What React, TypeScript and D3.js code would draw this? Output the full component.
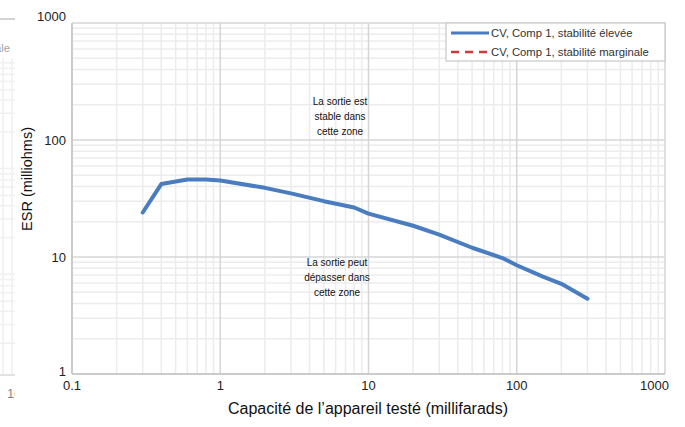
import React from "react";
import * as d3 from "d3";

const capacitance = [0.3, 0.4, 0.6, 0.8, 1, 2, 3, 5, 8, 10, 20, 30, 50, 80, 100, 150, 200, 300];
const esrHigh = [24, 42, 46, 46, 45, 39, 35, 30, 26.5, 23.5, 18.5, 15.5, 12, 9.8, 8.5, 6.8, 5.9, 4.4];
const xTicks = [0.1, 1, 10, 100, 1000];
const yTicks = [1, 10, 100, 1000];
const seriesNames = ["CV, Comp 1, stabilité élevée", "CV, Comp 1, stabilité marginale"];
const xTitle = "Capacité de l’appareil testé (millifarads)";
const yTitle = "ESR (milliohms)";
const noteTop = ["La sortie est", "stable dans", "cette zone"];
const noteBottom = ["La sortie peut", "dépasser dans", "cette zone"];

const W = 685, H = 427;
const L = 72, R = 665, T = 23, B = 374;
const FONT = "'Liberation Sans', Arial, Helvetica, sans-serif";
const BLUE = "#4a7dbf";
const RED = "#cc3a3a";

function minorValues(lo: number, hi: number) {
  const out: number[] = [];
  for (let d = lo; d < hi; d *= 10) {
    for (let k = 2; k <= 9; k++) out.push(d * k);
  }
  return out;
}

export default function App() {
  const x = d3.scaleLog().domain([0.1, 1000]).range([L, R]);
  const y = d3.scaleLog().domain([1, 1000]).range([B, T]);
  const xMinor = minorValues(0.1, 1000);
  const yMinor = minorValues(1, 1000);
  const pts = capacitance.map((c, i) => [c, esrHigh[i]] as [number, number]);
  const line = d3.line<[number, number]>().x(d => x(d[0])).y(d => y(d[1]));

  // faint neighbour-chart edge at far left
  const ny = d3.scaleLog().domain([1, 1000]).range([375, 58]);

  const yOffset = (v: number) => (v === 1000 ? -7 : v === 1 ? -3 : 0);

  return (
    <svg width={W} height={H} style={{ position: "absolute", left: 0, top: 0, background: "#fff" }} fontFamily={FONT}>
      <rect width={W} height={H} fill="#fff" />
      {/* neighbour chart remnant */}
      <defs>
        <clipPath id="leftclip"><rect x={0} y={0} width={15} height={H} /></clipPath>
      </defs>
      <g clipPath="url(#leftclip)" opacity={0.55}>
        <line x1={0} x2={15} y1={19} y2={19} stroke="#999" strokeWidth={1.5} />
        <text x={10} y={52} fontSize={11.3} fill="#555" textAnchor="end">marginale</text>
        {minorValues(1, 1000).map((v, i) => (
          <line key={"nh" + i} x1={0} x2={15} y1={ny(v)} y2={ny(v)} stroke="#e4e4e4" strokeWidth={1.5} />
        ))}
        {[3, 12].map((xx, i) => (
          <line key={"nv" + i} x1={xx} x2={xx} y1={58} y2={375} stroke="#e4e4e4" strokeWidth={1.5} />
        ))}
        <line x1={0} x2={15} y1={375} y2={375} stroke="#bbb" strokeWidth={1.5} />
        <text x={7} y={398} fontSize={13} fill="#222">10</text>
      </g>

      {/* minor grid */}
      {xMinor.map((v, i) => (
        <line key={"xm" + i} x1={x(v)} x2={x(v)} y1={T} y2={B} stroke="#ececec" strokeWidth={1.5} />
      ))}
      {yMinor.map((v, i) => (
        <line key={"ym" + i} x1={L} x2={R} y1={y(v)} y2={y(v)} stroke="#ececec" strokeWidth={1.5} />
      ))}
      {/* major grid */}
      {xTicks.map((v, i) => (
        <line key={"xM" + i} x1={x(v)} x2={x(v)} y1={T} y2={B} stroke="#d6d6d6" strokeWidth={1.5} />
      ))}
      {yTicks.map((v, i) => (
        <line key={"yM" + i} x1={L} x2={R} y1={y(v)} y2={y(v)} stroke="#d6d6d6" strokeWidth={1.5} />
      ))}
      <line x1={L} x2={L} y1={T} y2={B} stroke="#c4c4c4" strokeWidth={1.5} />
      <line x1={L} x2={R} y1={B} y2={B} stroke="#c4c4c4" strokeWidth={1.5} />

      {/* tick labels */}
      {yTicks.map((v, i) => (
        <text key={"yl" + i} x={66} y={y(v) + yOffset(v)} dy="0.35em" textAnchor="end" fontSize={13} fill="#222">
          {String(v)}
        </text>
      ))}
      {xTicks.map((v, i) => (
        <text key={"xl" + i} x={v === 1000 ? 669 : x(v)} y={385} dy="0.35em" textAnchor={v === 1000 ? "end" : "middle"} fontSize={13} fill="#222">
          {String(v)}
        </text>
      ))}

      {/* axis titles */}
      <text x={368} y={408} dy="0.35em" textAnchor="middle" fontSize={16} fill="#111">{xTitle}</text>
      <text transform="translate(27,179) rotate(-90)" dy="0.35em" textAnchor="middle" fontSize={14.5} fill="#111">{yTitle}</text>

      {/* annotations */}
      {noteTop.map((s, i) => (
        <text key={"nt" + i} x={340} y={101 + i * 15} dy="0.35em" textAnchor="middle" fontSize={10} fill="#111">{s}</text>
      ))}
      {noteBottom.map((s, i) => (
        <text key={"nb" + i} x={337} y={262 + i * 15} dy="0.35em" textAnchor="middle" fontSize={10} fill="#111">{s}</text>
      ))}

      {/* series */}
      <path d={line(pts) || ""} fill="none" stroke={BLUE} strokeWidth={4} strokeLinejoin="round" strokeLinecap="round" />

      {/* legend */}
      <rect x={446} y={T} width={R - 446} height={38} fill="#fff" stroke="#c8c8c8" strokeWidth={1.2} />
      <line x1={451} x2={489} y1={33} y2={33} stroke={BLUE} strokeWidth={3} />
      <text x={491} y={33} dy="0.35em" fontSize={11.3} fill="#333">{seriesNames[0]}</text>
      <line x1={451} x2={489} y1={52} y2={52} stroke={RED} strokeWidth={2.5} strokeDasharray="8,6" />
      <text x={491} y={52} dy="0.35em" fontSize={11.3} fill="#333">{seriesNames[1]}</text>
    </svg>
  );
}
